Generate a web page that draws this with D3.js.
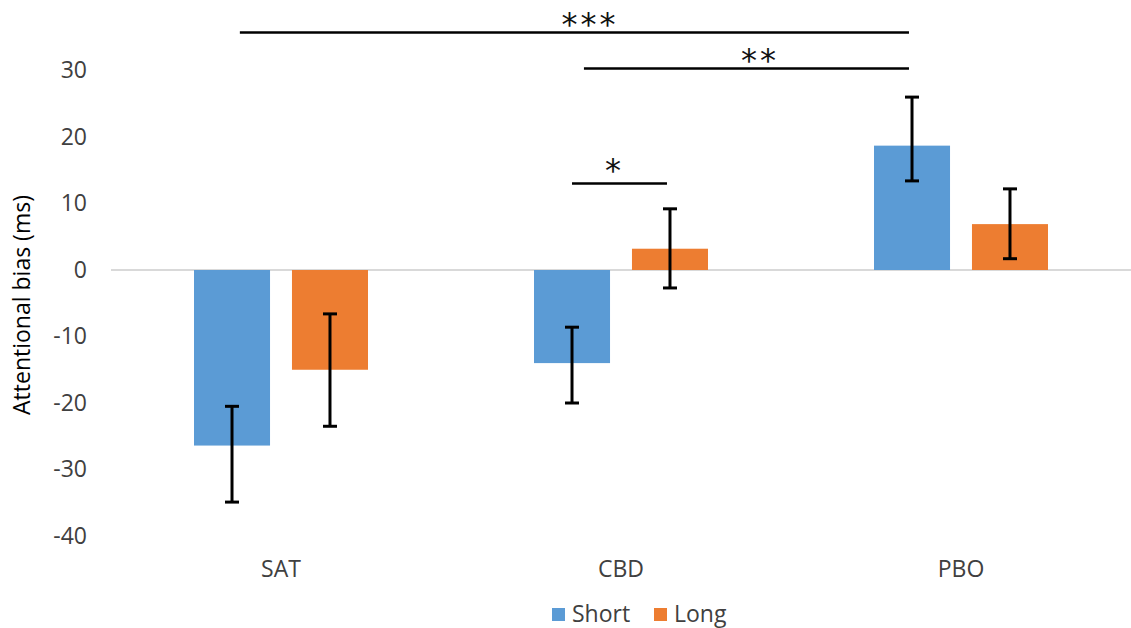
<!DOCTYPE html>
<html><head><meta charset="utf-8">
<script src="https://cdn.jsdelivr.net/npm/d3@7"></script>
<style>body{margin:0;background:#fff}svg{display:block}</style>
</head><body><svg id="c" width="1131" height="628"></svg>
<script>
const categories = ["SAT", "CBD", "PBO"];
const seriesNames = ["Short", "Long"];
const shortValues = [-26.4, -14.0, 18.7];
const longValues = [-15.0, 3.2, 6.9];
const shortErrHigh = [-20.5, -8.6, 26.0];
const shortErrLow = [-34.9, -20.0, 13.4];
const longErrHigh = [-6.6, 9.2, 12.2];
const longErrLow = [-23.5, -2.7, 1.7];
const yTicks = [-40, -30, -20, -10, 0, 10, 20, 30];
const sigLabels = ["***", "**", "*"];
const sigLevels = [35.7, 30.3, 13.0];
const colors = ["#5b9bd5", "#ed7d31"];

const svg = d3.select("#c");
const font = "'Open Sans', 'Noto Sans', sans-serif";
const y = d3.scaleLinear().domain([-40, 30]).range([536, 70.5]);
const x0 = d3.scaleBand().domain(categories).range([111, 1131]).paddingInner(0).paddingOuter(0);
const x1 = d3.scaleBand().domain([0, 1]).range([x0.step()/2 - 87, x0.step()/2 + 87]).paddingInner(0.224);

// zero line
svg.append("line").attr("x1", 111).attr("x2", 1131).attr("y1", y(0)).attr("y2", y(0))
  .attr("stroke", "#d9d9d9").attr("stroke-width", 2);

// y axis labels
const yAxis = d3.axisLeft(y).tickValues(yTicks).tickSize(0).tickPadding(0).tickFormat(d => String(d));
const ga = svg.append("g").attr("transform", "translate(87,0)").call(yAxis);
ga.select(".domain").remove();
ga.selectAll("text").attr("font-family", font).attr("font-size", 23).attr("fill", "#404040");

svg.append("text").attr("transform", "translate(30,305) rotate(-90)")
  .attr("text-anchor", "middle").attr("font-family", font).attr("font-size", 23)
  .attr("fill", "#000").text("Attentional bias (ms)");

// category labels
const xAxis = d3.axisBottom(x0).tickSize(0).tickPadding(0);
const gx = svg.append("g").attr("transform", "translate(0,561)").call(xAxis);
gx.select(".domain").remove();
gx.selectAll("text").attr("font-family", font).attr("font-size", 23).attr("fill", "#404040");

const vals = [shortValues, longValues];
const hi = [shortErrHigh, longErrHigh];
const lo = [shortErrLow, longErrLow];

const data = [];
categories.forEach((c, i) => [0, 1].forEach(s => data.push({c, s, v: vals[s][i], h: hi[s][i], l: lo[s][i]})));

svg.selectAll("rect.bar").data(data).join("rect")
  .attr("x", d => x0(d.c) + x1(d.s)).attr("width", x1.bandwidth())
  .attr("y", d => y(Math.max(0, d.v))).attr("height", d => Math.abs(y(d.v) - y(0)))
  .attr("fill", d => colors[d.s]);

const eb = svg.selectAll("g.err").data(data).join("g");
const cx = d => x0(d.c) + x1(d.s) + x1.bandwidth()/2;
eb.append("line").attr("x1", cx).attr("x2", cx).attr("y1", d => y(d.h)).attr("y2", d => y(d.l))
  .attr("stroke", "#000").attr("stroke-width", 3);
["h", "l"].forEach(k => eb.append("line").attr("x1", d => cx(d) - 7).attr("x2", d => cx(d) + 7)
  .attr("y1", d => y(d[k])).attr("y2", d => y(d[k])).attr("stroke", "#000").attr("stroke-width", 3));

// significance brackets
const st = x0.step();
const barCenter = (c, s) => x0(c) + x1(s) + x1.bandwidth()/2;
const brackets = [
  {x1: x0("SAT") + 0.379 * st, x2: x0("PBO") + 0.347 * st, tx: 590, ty: 35},
  {x1: x0("CBD") + 0.391 * st, x2: x0("PBO") + 0.347 * st, tx: 760, ty: 71},
  {x1: barCenter("CBD", 0), x2: barCenter("CBD", 1) - 3, tx: 613, ty: 181}
];
brackets.forEach((b, i) => {
  svg.append("line").attr("x1", b.x1).attr("x2", b.x2).attr("y1", y(sigLevels[i])).attr("y2", y(sigLevels[i]))
    .attr("stroke", "#000").attr("stroke-width", 2.5);
  svg.append("text").attr("x", b.tx).attr("y", b.ty).attr("text-anchor", "middle")
    .attr("font-family", "'DejaVu Sans', sans-serif").attr("font-size", 32)
    .attr("letter-spacing", i < 2 ? 3 : 0).attr("fill", "#111")
    .text(sigLabels[i]);
});

// legend
const lg = svg.append("g");
const legendX = [552, 654];
seriesNames.forEach((n, i) => {
  lg.append("rect").attr("x", legendX[i]).attr("y", 608).attr("width", 13).attr("height", 13).attr("fill", colors[i]);
  lg.append("text").attr("x", legendX[i] + 20).attr("y", 622).attr("font-family", font)
    .attr("font-size", 23).attr("fill", "#404040").text(n);
});
</script></body></html>
